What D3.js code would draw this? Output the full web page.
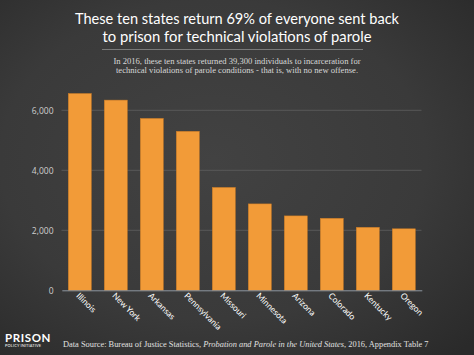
<!DOCTYPE html>
<html><head><meta charset="utf-8">
<script src="https://cdn.jsdelivr.net/npm/d3@7"></script>
<style>html,body{margin:0;padding:0;background:#3a3a3a;}svg{display:block}</style>
</head><body>
<script>
const states = ["Illinois","New York","Arkansas","Pennsylvania","Missouri","Minnesota","Arizona","Colorado","Kentucky","Oregon"];
const returned = [6560,6340,5730,5300,3430,2880,2480,2400,2100,2050];
const yTicks = [0,2000,4000,6000];
const titleLines = ["These ten states return 69% of everyone sent back","to prison for technical violations of parole"];
const titleWidths = [324,269];
const subLines = ["In 2016, these ten states returned 39,300 individuals to incarceration for","technical violations of parole conditions - that is, with no new offense."];

const W=474,H=355;
const svg=d3.select("body").append("svg").attr("width",W).attr("height",H);
const defs=svg.append("defs");
const rg=defs.append("radialGradient").attr("id","bg").attr("cx","45%").attr("cy","45%").attr("r","75%");
rg.append("stop").attr("offset","0%").attr("stop-color","#424242");
rg.append("stop").attr("offset","60%").attr("stop-color","#3a3a3a");
rg.append("stop").attr("offset","100%").attr("stop-color","#2a2a2a");
svg.append("rect").attr("width",W).attr("height",H).attr("fill","url(#bg)");

// title
svg.append("g").selectAll("text").data(titleLines).join("text")
  .attr("x",237).attr("y",(d,i)=>23.5+i*18).attr("text-anchor","middle")
  .attr("font-family","Lato, sans-serif").attr("font-size",15.2).attr("fill","#ffffff")
  .attr("textLength",(d,i)=>titleWidths[i]).attr("lengthAdjust","spacingAndGlyphs")
  .text(d=>d);
svg.append("line").attr("x1",102).attr("x2",363).attr("y1",49.5).attr("y2",49.5)
  .attr("stroke","#8a8a8a").attr("stroke-width",0.8);
svg.append("g").selectAll("text").data(subLines).join("text")
  .attr("x",237).attr("y",(d,i)=>64+i*9.3).attr("text-anchor","middle")
  .attr("font-family","'Liberation Serif', serif").attr("font-size",8.6).attr("fill","#d8d8d8")
  .text(d=>d);

const x=d3.scaleBand().domain(states).range([61.8,421.8]).paddingInner(0.36).paddingOuter(0.18);
const y=d3.scaleLinear().domain([0,6000]).range([290.3,110.3]);

// grid
svg.append("g").selectAll("line").data(yTicks.filter(d=>d>0)).join("line")
  .attr("x1",61.5).attr("x2",421.5).attr("y1",d=>y(d)).attr("y2",d=>y(d))
  .attr("stroke","#5e5e5e").attr("stroke-width",0.8);

// y axis labels
const ya=svg.append("g").attr("transform","translate(61.5,0)")
  .call(d3.axisLeft(y).tickValues(yTicks).tickSize(0).tickPadding(8).tickFormat(d3.format(",")));
ya.select(".domain").remove();
ya.selectAll("text").attr("font-family","'Open Sans', sans-serif").attr("font-size",8.5).attr("fill","#cfcfcf");

// bars
svg.append("g").selectAll("rect").data(states).join("rect")
  .attr("x",d=>x(d)).attr("width",x.bandwidth())
  .attr("y",(d,i)=>y(returned[i])).attr("height",(d,i)=>y(0)-y(returned[i]))
  .attr("fill","#F29B38").attr("stroke","#c97a25").attr("stroke-width",0.5);

// x axis
const xa=svg.append("g").attr("transform","translate(0,290.3)")
  .call(d3.axisBottom(x).tickSize(0).tickPadding(0));
xa.select(".domain").attr("stroke","#8e96a0").attr("stroke-width",1);
xa.selectAll("text").attr("font-family","Lato, sans-serif").attr("font-size",8.5).attr("fill","#ffffff")
  .attr("text-anchor","start").attr("dy",0).attr("y",0)
  .attr("transform","translate(-4,6) rotate(45)");

// footer logo
svg.append("text").attr("x",5).attr("y",341.5).attr("font-family","Lato, sans-serif").attr("font-weight","bold")
  .attr("font-size",11.5).attr("letter-spacing",0.6).attr("fill","#ffffff").text("PRISON");
svg.append("text").attr("x",5).attr("y",347).attr("font-family","Lato, sans-serif")
  .attr("font-size",3.9).attr("letter-spacing",0.15).attr("fill","#ffffff").text("POLICY INITIATIVE");
const src=svg.append("text").attr("x",63).attr("y",347).attr("font-family","'Liberation Serif', serif")
  .attr("font-size",8.4).attr("fill","#e0e0e0");
src.append("tspan").text("Data Source: Bureau of Justice Statistics, ");
src.append("tspan").attr("font-style","italic").text("Probation and Parole in the United States");
src.append("tspan").text(", 2016, Appendix Table 7");
</script>
</body></html>
